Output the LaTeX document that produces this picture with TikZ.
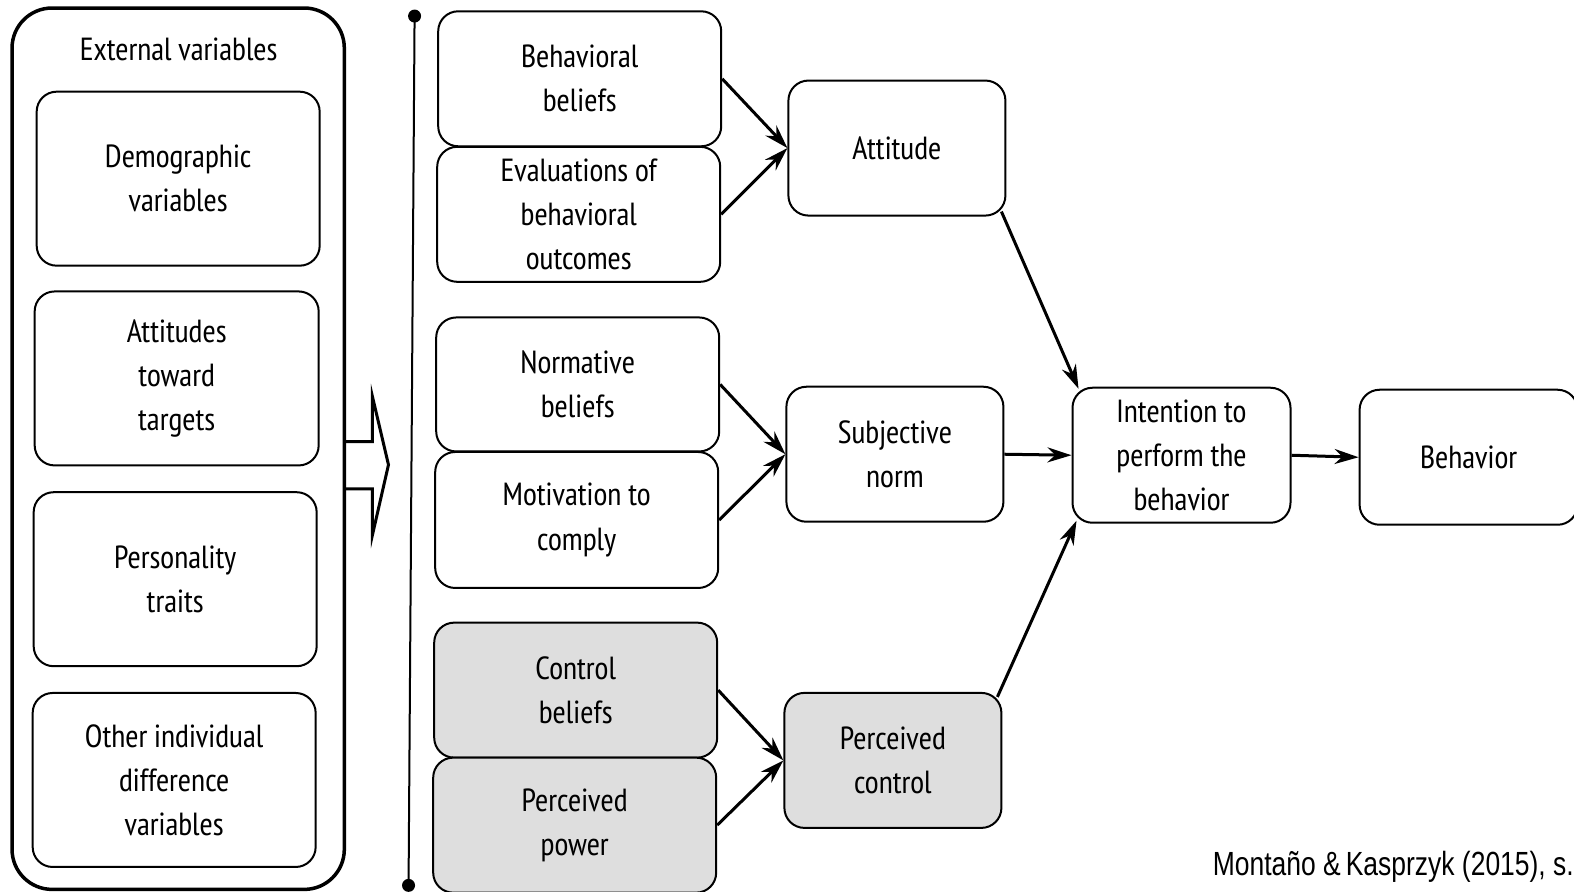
\documentclass[tikz,border=0pt]{standalone}
\usepackage{fontspec}
\setmainfont{PT Sans Narrow}
\newfontfamily\citefont{Liberation Sans}
\usetikzlibrary{arrows.meta,calc}

\begin{document}
\begin{tikzpicture}[x=1.0038pt,y=-1.0038pt,
  every node/.style={inner sep=0pt, align=center,
    font=\fontsize{32}{44}\selectfont},
  vbox/.style={draw, line width=2pt, rounded corners=20pt},
  shadebox/.style={vbox, fill=black!13},
  link/.style={line width=3pt, -{Stealth[length=24pt,width=15pt]}},
]
\useasboundingbox (0,0) rectangle (1568,888);

% hollow block arrow leaving the panel
\draw[line width=3pt, fill=white] (343,440) -- (371,440) -- (371,395) -- (387,463)
  -- (371,533) -- (371,487) -- (343,487);

% external variables panel
\draw[line width=3.5pt, rounded corners=40pt] (12,8) rectangle (343,886);
\node (ext) at (178,49) {External variables};
\node[vbox, minimum width=283pt, minimum height=174pt] (demo) at (177.5,178) {Demographic\\variables};
\node[vbox, minimum width=284pt, minimum height=174pt] (targ) at (176,377) {Attitudes\\toward\\targets};
\node[vbox, minimum width=283pt, minimum height=174pt] (pers) at (174.5,577) {Personality\\traits};
\node[vbox, minimum width=283pt, minimum height=174pt] (other) at (173.5,777) {Other individual\\difference\\variables};

% divider with round ends
\coordinate (vtop) at (413,16);
\coordinate (vbot) at (407,882);
\draw[line width=2pt] (vtop) -- (vbot);
\fill (vtop) circle (6.5pt);
\fill (vbot) circle (6.5pt);

% belief boxes
\node[vbox, minimum width=283pt, minimum height=135pt] (bb) at (577.5,78.5) {Behavioral\\beliefs};
\node[vbox, minimum width=283pt, minimum height=135pt] (ev) at (576.5,213.5) {Evaluations of\\behavioral\\outcomes};
\node[vbox, minimum width=283pt, minimum height=134pt] (nb) at (575.5,383) {Normative\\beliefs};
\node[vbox, minimum width=283pt, minimum height=136pt] (mc) at (574.5,518) {Motivation to\\comply};
\node[shadebox, minimum width=283pt, minimum height=135pt] (cb) at (573.5,687.5) {Control\\beliefs};
\node[shadebox, minimum width=283pt, minimum height=135pt] (pp) at (572.5,822) {Perceived\\power};

% constructs
\node[vbox, minimum width=217pt, minimum height=135pt] (att) at (893.5,147.5) {Attitude};
\node[vbox, minimum width=217pt, minimum height=135pt] (sn) at (891.5,452.5) {Subjective\\norm};
\node[shadebox, minimum width=217pt, minimum height=135pt] (pc) at (889.5,757.5) {Perceived\\control};
\node[vbox, minimum width=218pt, minimum height=135pt] (int) at (1177,453.5) {Intention to\\perform the\\behavior};
\node[vbox, minimum width=218pt, minimum height=135pt] (beh) at (1463,455.5) {Behavior};

% connectors
\draw[link] (bb.east) -- (att.west);
\draw[link] (ev.east) -- (att.west);
\draw[link] (nb.east) -- (sn.west);
\draw[link] (mc.east) -- (sn.west);
\draw[link] (cb.east) -- (pc.west);
\draw[link] (pp.east) -- (pc.west);
\draw[link] ($(att.south east)+(-5,-5)$) -- ($(int.north west)+(7,2)$);
\draw[link] (sn.east) -- (int.west);
\draw[link] ($(pc.north east)+(-5,5)$) -- ($(int.south west)+(5,-3)$);
\draw[link] (int.east) -- (beh.west);

% source note
\node[anchor=base east, font=\citefont\fontsize{33.5}{40}\selectfont] (src) at (1568,872)
  {\scalebox{0.79}[1]{Montaño \&\kern-3pt\ Kasprzyk\ (2015), s.}};
\end{tikzpicture}
\end{document}
